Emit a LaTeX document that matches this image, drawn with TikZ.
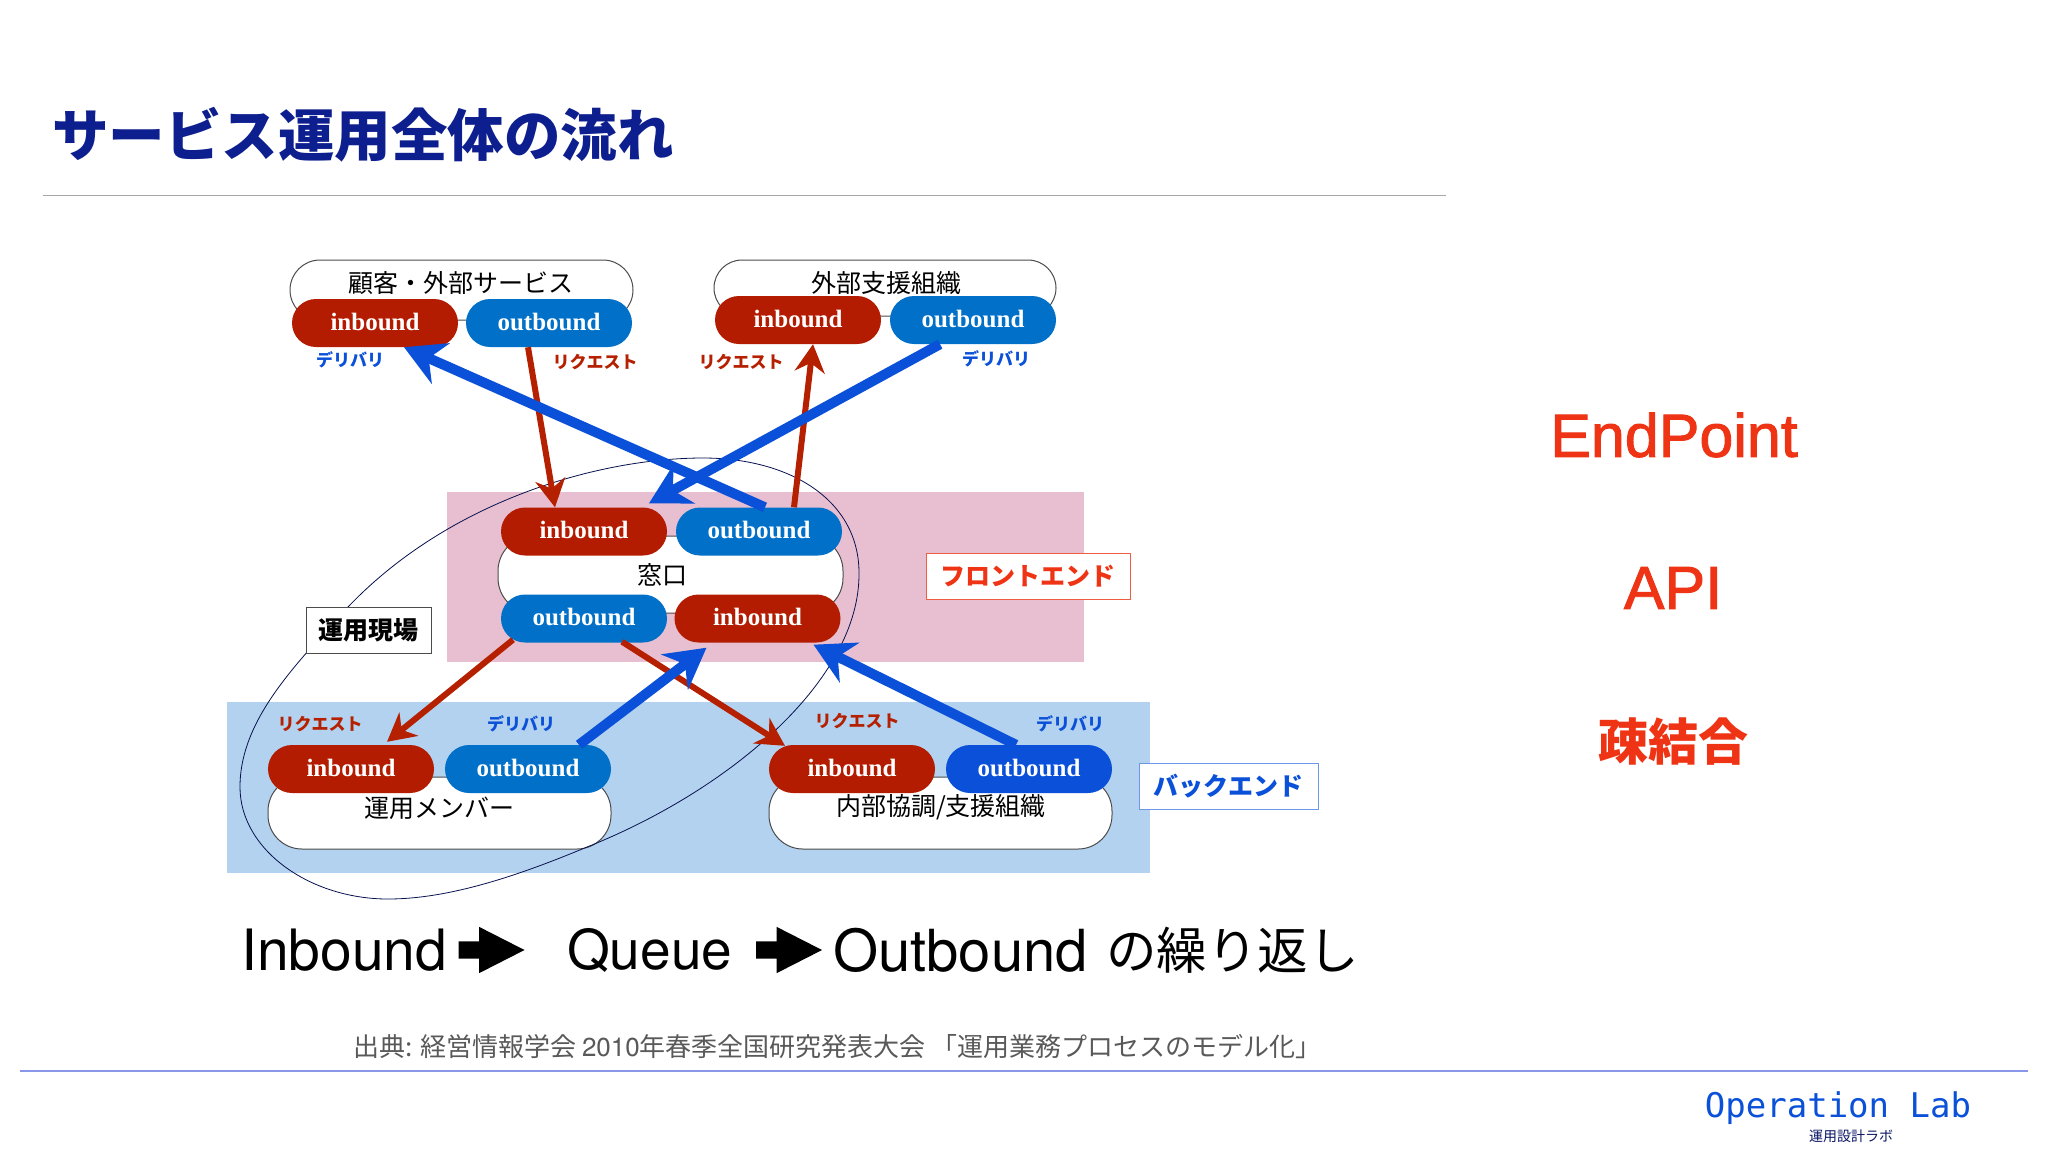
\documentclass[tikz,border=0pt]{standalone}
\usepackage{fontspec}
\setmainfont{Noto Sans CJK JP}
\newfontfamily\pillfont{Liberation Serif}
\newfontfamily\latinfont{TeX Gyre Heros}
\newfontfamily\accentfont[FakeBold=1.5]{Liberation Sans}
\newfontfamily\monofont{DejaVu Sans Mono}
\usetikzlibrary{arrows.meta}
\usetikzlibrary{shapes.arrows}

\definecolor{titleblue}{HTML}{0D1E8E}
\definecolor{inred}{HTML}{B31C00}
\definecolor{outblue}{HTML}{0070C8}
\definecolor{arrowred}{HTML}{B52000}
\definecolor{arrowblue}{HTML}{0A50D8}
\definecolor{frontpink}{HTML}{E8BFD0}
\definecolor{backblue}{HTML}{B3D2EF}
\definecolor{accentred}{HTML}{EE3414}
\definecolor{ruleblue}{HTML}{8A97E8}

\begin{document}
\begin{tikzpicture} [
    x = 1pt, y = -1pt,
    inpill/.style = {rectangle, rounded corners = 24pt, fill = inred, text = white,
        minimum width = 166pt, minimum height = 48pt, inner sep = 0pt,
        text height = 17pt, text depth = 2.5pt,
        font = \fontsize{25}{25}\pillfont\bfseries},
    outpill/.style = {inpill, fill = outblue},
    outerbox/.style = {draw = black!70, fill = white, rectangle, line width = 1pt, inner sep = 0pt},
    grouplabel/.style = {font = \fontsize{25}{25}\selectfont, inner sep = 0pt},
    smalltag/.style = {font = \fontsize{17}{17}\selectfont\bfseries, inner sep = 0pt},
    areatag/.style = {rectangle, fill = white, line width = 1pt, inner sep = 0pt, minimum height = 46pt,
        font = \fontsize{25}{25}\selectfont\bfseries},
    request/.style = {draw = arrowred, line width = 6pt, -{Stealth[length = 28pt, width = 30pt]}},
    deliver/.style = {draw = arrowblue, line width = 10pt, -{Stealth[length = 40pt, width = 44pt]}},
    bigarrow/.style = {single arrow, fill = black, inner sep = 0pt, text height = 17pt, text depth = 0pt,
        minimum height = 66pt, single arrow head extend = 14.5pt, single arrow tip angle = 54}
]
\useasboundingbox (0,0) rectangle (2048,1152);

% title and rules
\node (title) at (52,135) [anchor = west, inner sep = 0pt, text = titleblue, font = \fontsize{56.5}{56.5}\selectfont\bfseries] {サービス運用全体の流れ};
\coordinate (ruleA) at (43,195);
\coordinate (ruleB) at (1446,195);
\draw [black!35, line width = 1pt] (ruleA) -- (ruleB);
\coordinate (ruleC) at (20,1071);
\coordinate (ruleD) at (2028,1071);
\draw [ruleblue, line width = 1.5pt] (ruleC) -- (ruleD);

% areas
\fill [frontpink] (447,492) rectangle (1084,662);
\fill [backblue] (227,702) rectangle (1150,873);

% groups
\node (customer) at (461.5,290) [outerbox, minimum width = 343pt, minimum height = 60pt, rounded corners = 30pt] {};
\node (support) at (885,288) [outerbox, minimum width = 342pt, minimum height = 56pt, rounded corners = 28pt] {};
\node (window) at (670.5,574.5) [outerbox, minimum width = 345pt, minimum height = 77pt, rounded corners = 35pt] {};
\node (member) at (439.5,813) [outerbox, minimum width = 343pt, minimum height = 72pt, rounded corners = 34pt] {};
\node (internal) at (940.5,813) [outerbox, minimum width = 343pt, minimum height = 72pt, rounded corners = 34pt] {};

% field outline
\draw [black!45!titleblue, line width = 0.8pt] (240,787)
    .. controls (240,720) and (295,665) .. (348,607)
    .. controls (450,500) and (600,458) .. (703,458)
    .. controls (790,458) and (859,500) .. (859,573)
    .. controls (860,680) and (730,790) .. (587,847)
    .. controls (520,875) and (450,899) .. (388,899)
    .. controls (310,899) and (240,850) .. (240,787) -- cycle;

% pills
\node (custIn) at (375,323) [inpill] {inbound};
\node (custOut) at (549,323) [outpill] {outbound};
\node (suppIn) at (798,320) [inpill] {inbound};
\node (suppOut) at (973,320) [outpill] {outbound};
\node (winTopIn) at (584,531.5) [inpill] {inbound};
\node (winTopOut) at (759,531.5) [outpill] {outbound};
\node (winBotOut) at (584,618.5) [outpill] {outbound};
\node (winBotIn) at (757.5,618.5) [inpill] {inbound};
\node (membIn) at (351,769) [inpill] {inbound};
\node (membOut) at (528,769) [outpill] {outbound};
\node (intIn) at (852,769) [inpill] {inbound};
\node (intOut) at (1029,769) [outpill, fill = arrowblue] {outbound};

% arrows
\draw [request] ([xshift = -21pt]custOut.south) -- ([xshift = -29pt]winTopIn.north);
\draw [request] ([xshift = 35pt]winTopOut.north) -- ([xshift = 15pt]suppIn.south);
\draw [deliver] ([xshift = 6pt]winTopOut.north) -- ([xshift = 29pt]custIn.south);
\draw [deliver] ([xshift = -33pt]suppOut.south) -- ([xshift = 65pt, yshift = 4pt]winTopIn.north);
\draw [request] ([xshift = -71pt, yshift = 3pt]winBotOut.south) -- ([xshift = 36pt, yshift = 3pt]membIn.north);
\draw [request] ([xshift = 38pt, yshift = 1pt]winBotOut.south) -- ([xshift = -67pt, yshift = -1pt]intIn.north);
\draw [deliver] ([xshift = 51pt]membOut.north) -- ([xshift = -51pt, yshift = -5pt]winBotIn.south);
\draw [deliver] ([xshift = -13pt]intOut.north) -- ([xshift = 56pt, yshift = -2pt]winBotIn.south);

% labels
\node (custName) at (461,283) [grouplabel] {顧客・外部サービス};
\node (suppName) at (886,283) [grouplabel] {外部支援組織};
\node (winName) at (662,575) [grouplabel] {窓口};
\node (membName) at (439,808) [grouplabel] {運用メンバー};
\node (intName) at (941,807) [grouplabel] {内部協調/支援組織};

\node (tagA) at (350,360) [smalltag, text = arrowblue] {デリバリ};
\node (tagB) at (595,362) [smalltag, text = arrowred] {リクエスト};
\node (tagC) at (741,362) [smalltag, text = arrowred] {リクエスト};
\node (tagD) at (996,359) [smalltag, text = arrowblue] {デリバリ};
\node (tagE) at (320,724) [smalltag, text = arrowred] {リクエスト};
\node (tagF) at (521,724) [smalltag, text = arrowblue] {デリバリ};
\node (tagG) at (857,721) [smalltag, text = arrowred] {リクエスト};
\node (tagH) at (1070,724) [smalltag, text = arrowblue] {デリバリ};

\node (front) at (1028,576) [areatag, draw = accentred!80, text = accentred, minimum width = 204pt] {フロントエンド};
\node (back) at (1228.5,786) [areatag, draw = arrowblue!60, text = arrowblue, minimum width = 179pt] {バックエンド};
\node (field) at (368.5,630) [areatag, draw = black!70, text = black, minimum width = 125pt] {運用現場};

% bottom line
\node (inbound) at (241,950) [anchor = west, inner sep = 0pt, font = \fontsize{57}{57}\latinfont] {Inbound};
\node (arrowA) at (483,950) [bigarrow] {};
\node (queue) at (567,950) [anchor = west, inner sep = 0pt, font = \fontsize{55}{55}\latinfont] {Queue};
\node (arrowB) at (780.5,950) [bigarrow] {};
\node (outbound) at (833,950) [anchor = west, inner sep = 0pt, font = \fontsize{58}{58}\latinfont] {Outbound};
\node (repeat) at (1106,950) [anchor = west, inner sep = 0pt, font = \fontsize{50.5}{50.5}\selectfont] {の繰り返し};

% source
\node (source) at (353,1047) [anchor = west, inner sep = 0pt, text = black!65, font = \fontsize{26}{26}\selectfont] {出典: 経営情報学会 {\latinfont 2010}年春季全国研究発表大会 「運用業務プロセスのモデル化」};

% right side
\node (endpoint) at (1674,435) [text = accentred, font = \fontsize{61}{61}\accentfont] {EndPoint};
\node (api) at (1673,588) [text = accentred, font = \fontsize{61}{61}\accentfont] {API};
\node (loose) at (1673,742) [text = accentred, font = \fontsize{50}{50}\selectfont\bfseries] {疎結合};

% logo
\node (logo) at (1838,1108) [text = arrowblue, inner sep = 0pt, font = \fontsize{34}{34}\monofont] {Operation Lab};
\node (logoSub) at (1851,1136) [text = titleblue!70!black, inner sep = 0pt, font = \fontsize{14}{14}\selectfont] {運用設計ラボ};

\end{tikzpicture}
\end{document}
